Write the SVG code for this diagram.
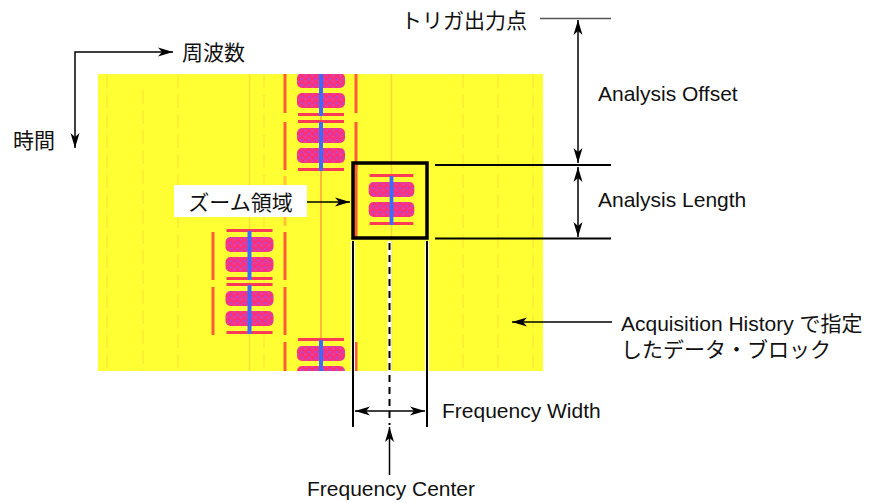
<svg xmlns="http://www.w3.org/2000/svg" width="874" height="503" viewBox="0 0 874 503">
<style>
.t{font-family:"Liberation Sans","Noto Sans CJK JP",sans-serif;font-size:21px;fill:#111}
.ln{stroke:#000;stroke-width:1.5;fill:none}
.ar{stroke:#000;stroke-width:1.5;fill:none;marker-end:url(#ah)}
.dar{stroke:#000;stroke-width:1.5;fill:none;marker-start:url(#ah);marker-end:url(#ah)}
.rv{fill:#ff5a3c}
.fl{stroke:#f0a040;stroke-width:1.5;opacity:.2;stroke-dasharray:14 6}
.bar{fill:#ff3a58}
.blk{fill:url(#dots)}
.blu{fill:#3b6cff}
</style>
<defs>
<marker id="ah" markerUnits="userSpaceOnUse" markerWidth="16" markerHeight="10" refX="15" refY="5" orient="auto-start-reverse">
<path d="M0,0.5 L15,5 L0,9.5 L4,5 z" fill="#000"/>
</marker>
<pattern id="dots" patternUnits="userSpaceOnUse" width="7" height="6">
<rect width="7" height="6" fill="#ff2f78"/>
<circle cx="2" cy="2" r="1.6" fill="#b04ad8" opacity=".85"/>
<circle cx="5.5" cy="4.5" r="1.3" fill="#c050d0" opacity=".7"/>
</pattern>
<g id="burst">
<rect class="bar" x="-23" y="0" width="46" height="3"/>
<rect class="blk" x="-24" y="8" width="48" height="15" rx="5"/>
<rect class="blk" x="-24" y="28" width="48" height="15" rx="5"/>
<rect class="bar" x="-23" y="48" width="46" height="3"/>
<rect class="blu" x="-2" y="2" width="4" height="49"/>
</g>
<clipPath id="clip"><rect x="98" y="74" width="445" height="297"/></clipPath>
</defs>

<g id="spectrogram">
<rect x="98" y="74" width="445" height="297" fill="#ffff33"/>
<g clip-path="url(#clip)">
<line class="fl" x1="107" y1="74" x2="107" y2="371"/>
<line class="fl" x1="143" y1="90" x2="143" y2="371"/>
<line class="fl" x1="178" y1="74" x2="178" y2="371"/>
<line class="fl" x1="264" y1="74" x2="264" y2="371"/>
<line class="fl" x1="463" y1="74" x2="463" y2="371"/>
<line class="fl" x1="498" y1="74" x2="498" y2="371"/>
<line class="fl" x1="533" y1="74" x2="533" y2="371"/>
<line x1="249.5" y1="74" x2="249.5" y2="371" stroke="#f0a040" stroke-width="1.5" opacity=".3"/>
<line x1="321" y1="74" x2="321" y2="371" stroke="#ff7a3c" stroke-width="1.5" opacity=".7"/>
<line x1="391.5" y1="74" x2="391.5" y2="371" stroke="#f0a040" stroke-width="1.5" opacity=".4"/>
<rect class="rv" x="283.5" y="74" width="3" height="39"/>
<rect class="rv" x="283.5" y="122" width="3" height="48"/>
<rect class="rv" x="283.5" y="176" width="3" height="50" opacity=".35"/>
<rect class="rv" x="283.5" y="232" width="3" height="48"/>
<rect class="rv" x="283.5" y="287" width="3" height="48"/>
<rect class="rv" x="283.5" y="342" width="3" height="29"/>
<rect class="rv" x="354.5" y="74" width="3" height="39"/>
<rect class="rv" x="354.5" y="122" width="3" height="48"/>
<rect class="rv" x="354.5" y="163" width="3" height="76"/>
<rect class="rv" x="354.5" y="342" width="3" height="29"/>
<rect class="rv" x="211.5" y="232" width="3" height="48"/>
<rect class="rv" x="211.5" y="287" width="3" height="48"/>
<use href="#burst" transform="translate(321,65)"/>
<use href="#burst" transform="translate(321,120)"/>
<use href="#burst" transform="translate(321,338)"/>
<use href="#burst" transform="translate(249.5,229)"/>
<use href="#burst" transform="translate(249.5,283)"/>
<use href="#burst" transform="translate(391.5,174) scale(0.95,1)"/>
</g>
</g>

<g id="zoom-box">
<rect x="353" y="163" width="74" height="75" fill="none" stroke="#000" stroke-width="3.5"/>
</g>

<g id="connectors">
<path class="dar" d="M75,148 L75,52 L173,52"/>
<line x1="540" y1="18.5" x2="611" y2="18.5" stroke="#555" stroke-width="1.5"/>
<line x1="435" y1="165" x2="611" y2="165" stroke="#000" stroke-width="2"/>
<line x1="435" y1="238.5" x2="611" y2="238.5" stroke="#000" stroke-width="2"/>
<line class="dar" x1="578" y1="20" x2="578" y2="163"/>
<line class="dar" x1="578" y1="167" x2="578" y2="237"/>
<line class="ar" x1="307" y1="202" x2="350" y2="202"/>
<line class="ar" x1="612" y1="322" x2="512" y2="322"/>
<line x1="353" y1="241" x2="353" y2="371" stroke="#fff" stroke-width="4"/>
<line x1="427" y1="241" x2="427" y2="371" stroke="#fff" stroke-width="4"/>
<line x1="389.5" y1="241" x2="389.5" y2="371" stroke="#fff" stroke-width="4"/>
<line x1="353" y1="241" x2="353" y2="427" stroke="#000" stroke-width="2"/>
<line x1="427" y1="241" x2="427" y2="427" stroke="#000" stroke-width="2"/>
<line x1="389.5" y1="243" x2="389.5" y2="425" stroke="#000" stroke-width="2" stroke-dasharray="7 5"/>
<line class="dar" x1="355" y1="411" x2="425" y2="411"/>
<line class="ar" x1="389.5" y1="475" x2="389.5" y2="427"/>
</g>

<g id="label-zoom">
<rect x="174" y="185" width="133" height="32" fill="#fff"/>
<text class="t" x="240.5" y="210" text-anchor="middle">ズーム領域</text>
</g>
<g id="label-freq"><text class="t" x="182" y="60">周波数</text></g>
<g id="label-time"><text class="t" x="13" y="148">時間</text></g>
<g id="label-trigger"><text class="t" x="527" y="28" text-anchor="end">トリガ出力点</text></g>
<g id="label-offset"><text class="t" x="598" y="101">Analysis Offset</text></g>
<g id="label-length"><text class="t" x="598" y="207">Analysis Length</text></g>
<g id="label-acq"><text class="t" x="621" y="331">Acquisition History で指定</text><text class="t" x="621" y="357">したデータ・ブロック</text></g>
<g id="label-fwidth"><text class="t" x="442" y="418">Frequency Width</text></g>
<g id="label-fcenter"><text class="t" x="391" y="496" text-anchor="middle">Frequency Center</text></g>
</svg>
